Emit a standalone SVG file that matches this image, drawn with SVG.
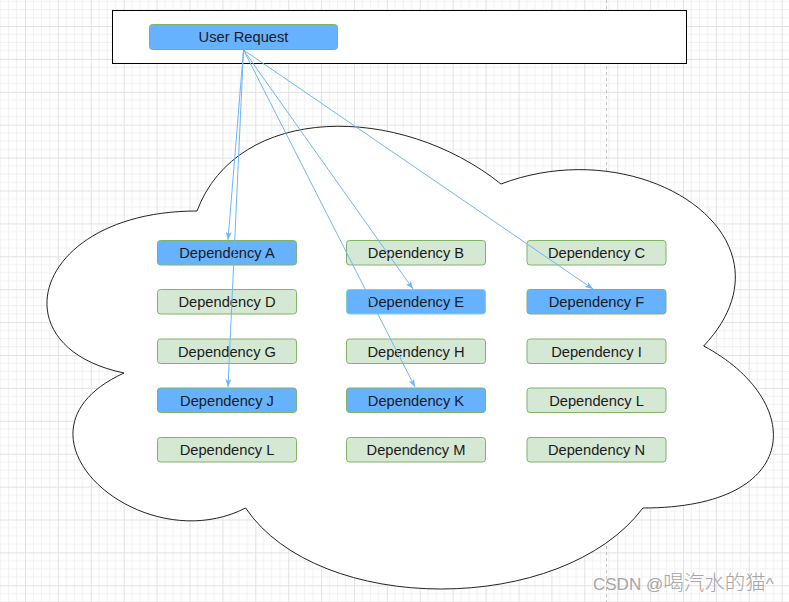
<svg xmlns="http://www.w3.org/2000/svg" width="789" height="602" viewBox="0 0 789 602">
<style>
.lbl{font-family:"Liberation Sans",Arial,sans-serif;font-size:14.7px;fill:#1a1a1a;text-anchor:middle}
.g{fill:#d5e8d4;stroke:#82b366;stroke-width:1}
.b{fill:#66b2ff;stroke:#82b366;stroke-width:1}
.edge{fill:none;stroke:#6fb5fa;stroke-width:1}
</style>
<defs>
<pattern id="grid" patternUnits="userSpaceOnUse" x="25" y="26" width="32.9" height="32.9">
<path d="M8.22,0V32.9M16.45,0V32.9M24.67,0V32.9M0,8.22H32.9M0,16.45H32.9M0,24.67H32.9" stroke="#f1f1f1" stroke-width="1" fill="none"/>
<path d="M0.5,0V32.9M0,0.5H32.9" stroke="#e2e2e2" stroke-width="1" fill="none"/>
</pattern>
<marker id="arr" viewBox="0 0 8 6" refX="8" refY="3" markerWidth="8" markerHeight="6" markerUnits="userSpaceOnUse" orient="auto">
<path d="M0,0 L8,3 L0,6 L2,3 z" fill="#6fb5fa"/>
</marker>
</defs>
<rect x="0" y="0" width="789" height="602" fill="#ffffff"/>
<rect x="0" y="0" width="789" height="602" fill="url(#grid)"/>
<line x1="606.5" y1="0" x2="606.5" y2="602" stroke="#c4c4c4" stroke-width="1" stroke-dasharray="3,3"/>

<g id="container">
<rect x="112.5" y="10.5" width="574" height="53" fill="#ffffff" stroke="#000000" stroke-width="1"/>
</g>
<g id="cloud">
<path d="M197,211 C34.8,211 -5.7,346 124,373 C-5.7,432.4 140.2,562 245.6,508 C318.6,616 561.8,616 642.9,508 C805,508 805,400 703.7,346 C805,238 642.9,130 501,184 C399.7,103 237.5,103 197,211 Z" fill="#ffffff" stroke="#222222" stroke-width="1"/>
</g>

<g id="user-request"><rect class="b" x="149.5" y="24.5" width="188" height="25" rx="3"/><text class="lbl" x="243.5" y="42">User Request</text></g>

<g id="dep-a"><rect class="b" x="157.5" y="240.5" width="139" height="24.5" rx="3"/><text class="lbl" x="227" y="258">Dependency A</text></g>
<g id="dep-b"><rect class="g" x="346.5" y="240.5" width="139" height="24.5" rx="3"/><text class="lbl" x="416" y="258">Dependency B</text></g>
<g id="dep-c"><rect class="g" x="527" y="240.5" width="139" height="24.5" rx="3"/><text class="lbl" x="596.5" y="258">Dependency C</text></g>

<g id="dep-d"><rect class="g" x="157.5" y="289.5" width="139" height="24.5" rx="3"/><text class="lbl" x="227" y="307">Dependency D</text></g>
<g id="dep-e"><rect class="b" x="346.5" y="289.5" width="139" height="24.5" rx="3" style="stroke:#7fd6c6"/><text class="lbl" x="416" y="307">Dependency E</text></g>
<g id="dep-f"><rect class="b" x="527" y="289.5" width="139" height="24.5" rx="3"/><text class="lbl" x="596.5" y="307">Dependency F</text></g>

<g id="dep-g"><rect class="g" x="157.5" y="339" width="139" height="24.5" rx="3"/><text class="lbl" x="227" y="356.5">Dependency G</text></g>
<g id="dep-h"><rect class="g" x="346.5" y="339" width="139" height="24.5" rx="3"/><text class="lbl" x="416" y="356.5">Dependency H</text></g>
<g id="dep-i"><rect class="g" x="527" y="339" width="139" height="24.5" rx="3"/><text class="lbl" x="596.5" y="356.5">Dependency I</text></g>

<g id="dep-j"><rect class="b" x="157.5" y="388" width="139" height="24.5" rx="3"/><text class="lbl" x="227" y="405.5">Dependency J</text></g>
<g id="dep-k"><rect class="b" x="346.5" y="388" width="139" height="24.5" rx="3"/><text class="lbl" x="416" y="405.5">Dependency K</text></g>
<g id="dep-l1"><rect class="g" x="527" y="388" width="139" height="24.5" rx="3"/><text class="lbl" x="596.5" y="405.5">Dependency L</text></g>

<g id="dep-l2"><rect class="g" x="157.5" y="437.5" width="139" height="24.5" rx="3"/><text class="lbl" x="227" y="455">Dependency L</text></g>
<g id="dep-m"><rect class="g" x="346.5" y="437.5" width="139" height="24.5" rx="3"/><text class="lbl" x="416" y="455">Dependency M</text></g>
<g id="dep-n"><rect class="g" x="527" y="437.5" width="139" height="24.5" rx="3"/><text class="lbl" x="596.5" y="455">Dependency N</text></g>

<g id="connectors">
<path class="edge" d="M243.5,50 L228,240" marker-end="url(#arr)"/>
<path class="edge" d="M243.5,50 L228,387" marker-end="url(#arr)"/>
<path class="edge" d="M243.5,50 L413,289" marker-end="url(#arr)"/>
<path class="edge" d="M243.5,50 L415,387" marker-end="url(#arr)"/>
<path class="edge" d="M243.5,50 L593,289" marker-end="url(#arr)"/>
</g>

<text x="593" y="590" style="font-family:'Liberation Sans','Noto Sans CJK SC',sans-serif;font-size:17px;fill:#a6a6a6;font-weight:300">CSDN @<tspan style="font-size:20.5px;font-family:'Noto Sans CJK SC',sans-serif;font-weight:300">喝汽水的猫</tspan>^</text>
</svg>
